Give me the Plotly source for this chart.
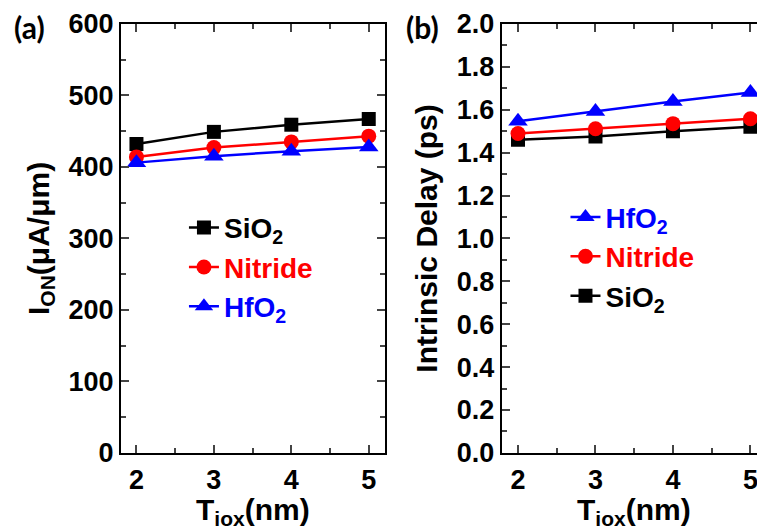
import plotly.graph_objects as go

tiox = [2, 3, 4, 5]

ion_sio2 = [432, 449, 459, 467]
ion_nitride = [414, 427, 435, 443]
ion_hfo2 = [406, 415, 422, 428]

delay_sio2 = [1.46, 1.475, 1.50, 1.52]
delay_nitride = [1.489, 1.511, 1.535, 1.558]
delay_hfo2 = [1.546, 1.592, 1.638, 1.68]

names = ["SiO<sub>2</sub>", "Nitride", "HfO<sub>2</sub>"]
colors = ["#000000", "#ff0000", "#0000ff"]
symbols = ["square", "circle", "triangle-up"]
msizes = [14, 15, 17]
right_ranks = [3, 2, 1]

x_title = "T<sub>iox</sub>(nm)"
FONT = "Liberation Sans, Arial, sans-serif"

fig = go.Figure()

left_series = [ion_sio2, ion_nitride, ion_hfo2]
right_series = [delay_sio2, delay_nitride, delay_hfo2]

for i in range(3):
    fig.add_trace(go.Scatter(
        x=tiox, y=left_series[i], mode="lines+markers",
        name="<span style='color:%s'>%s</span>" % (colors[i], names[i]),
        line=dict(color=colors[i], width=2.5),
        marker=dict(symbol=symbols[i], size=msizes[i], color=colors[i]),
        xaxis="x", yaxis="y", legend="legend", legendgroup="a%d" % i,
        legendrank=i + 1,
    ))
for i in range(3):
    fig.add_trace(go.Scatter(
        x=tiox, y=right_series[i], mode="lines+markers",
        name="<span style='color:%s'>%s</span>" % (colors[i], names[i]),
        line=dict(color=colors[i], width=2.5),
        marker=dict(symbol=symbols[i], size=msizes[i], color=colors[i]),
        xaxis="x2", yaxis="y2", legend="legend2", legendgroup="b%d" % i,
        legendrank=right_ranks[i],
    ))

tickfont = dict(family=FONT, size=27, color="black", weight="bold")
titlefont = dict(family=FONT, size=30, color="black", weight="bold")
legendfont = dict(family=FONT, size=28, weight="bold")

def xaxis_cfg(domain, rng, anchor):
    return dict(
        domain=domain, range=rng, anchor=anchor, automargin=False,
        tickvals=[2, 3, 4, 5], ticks="inside", ticklen=8, tickwidth=1.5,
        minor=dict(ticks="inside", ticklen=5, tickwidth=1.5, dtick=0.5, tick0=2),
        showline=True, linewidth=2, linecolor="black", mirror="ticks",
        showgrid=False, zeroline=False, tickfont=tickfont,
        ticklabelstandoff=2, ticklabeloverflow="allow",
    )

fig.update_layout(
    width=757, height=531,
    margin=dict(l=0, r=0, t=0, b=0, autoexpand=False),
    paper_bgcolor="white", plot_bgcolor="white",
    xaxis=xaxis_cfg([0.1598, 0.5086], [1.8, 5.21], "y"),
    xaxis2=xaxis_cfg([0.6628, 1.0], [1.79, 5.085], "y2"),
    yaxis=dict(
        domain=[0.147, 0.955], range=[0, 600], anchor="x", automargin=False,
        dtick=100, ticks="inside", ticklen=8, tickwidth=1.5,
        minor=dict(ticks="inside", ticklen=5, tickwidth=1.5, dtick=50),
        showline=True, linewidth=2, linecolor="black", mirror="ticks",
        showgrid=False, zeroline=False, tickfont=tickfont,
        title=dict(text="I<sub>ON</sub>(μA/μm)", font=titlefont, standoff=10),
    ),
    yaxis2=dict(
        domain=[0.147, 0.955], range=[0, 2.0], anchor="x2", automargin=False,
        dtick=0.2, tickformat=".1f", ticks="inside", ticklen=8, tickwidth=1.5,
        minor=dict(ticks="inside", ticklen=5, tickwidth=1.5, dtick=0.1),
        showline=True, linewidth=2, linecolor="black", mirror=False,
        showgrid=False, zeroline=False, tickfont=tickfont,
        title=dict(text="Intrinsic Delay (ps)", font=titlefont, standoff=10),
    ),
    legend=dict(
        x=0.243, y=0.618, xanchor="left", yanchor="top",
        bgcolor="rgba(0,0,0,0)", font=legendfont,
        tracegroupgap=0, traceorder="grouped",
    ),
    legend2=dict(
        x=0.747, y=0.638, xanchor="left", yanchor="top",
        bgcolor="rgba(0,0,0,0)", font=legendfont,
        tracegroupgap=0, traceorder="grouped",
    ),
    showlegend=True,
    annotations=[
        dict(text="(a)", x=12 / 757, y=1 - 27 / 531, xref="paper", yref="paper",
             xanchor="left", yanchor="middle", showarrow=False,
             font=dict(family="Lato, " + FONT, size=30, color="black", weight="bold")),
        dict(text="(b)", x=404 / 757, y=1 - 27 / 531, xref="paper", yref="paper",
             xanchor="left", yanchor="middle", showarrow=False,
             font=dict(family="Lato, " + FONT, size=30, color="black", weight="bold")),
        dict(text=x_title, x=3.5, y=1 - 511 / 531, xref="x", yref="paper",
             xanchor="center", yanchor="middle", showarrow=False, font=titlefont),
        dict(text=x_title, x=3.5, y=1 - 511 / 531, xref="x2", yref="paper",
             xanchor="center", yanchor="middle", showarrow=False, font=titlefont),
    ],
)

fig.write_html("out.html")
